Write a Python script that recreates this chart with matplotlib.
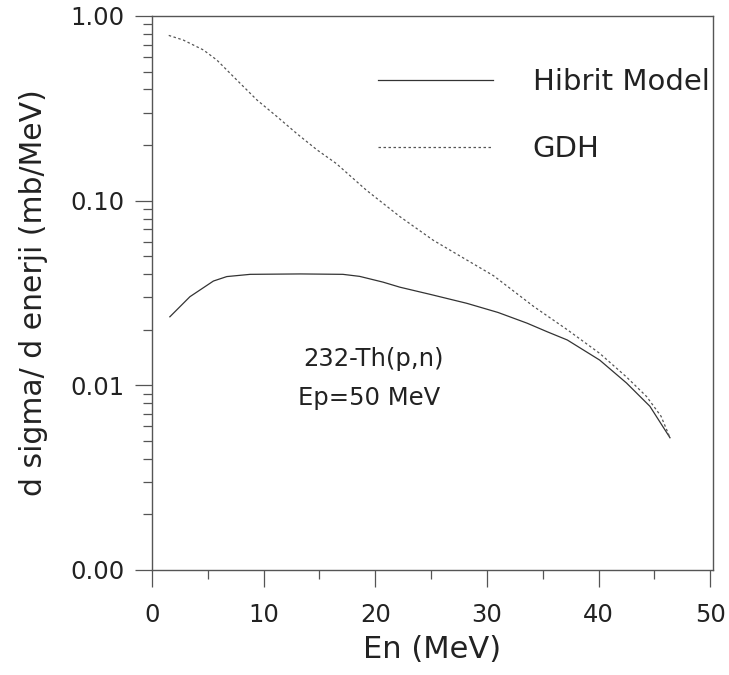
"""232-Th(p,n) neutron spectrum, Ep = 50 MeV: hybrid model vs GDH."""

import matplotlib

matplotlib.use("Agg")
import matplotlib.pyplot as plt
from matplotlib import ticker

# neutron energy (MeV) and d sigma / d E (mb/MeV)
en_hibrit = [1.6, 3.4, 5.5, 6.7, 8.8, 13.3, 17.1, 18.6, 20.7, 22.2, 25.0,
             28.2, 31.0, 33.6, 35.4, 37.2, 40.1, 42.5, 44.6, 46.4]
sig_hibrit = [0.0235, 0.0302, 0.0367, 0.0388, 0.0399, 0.0401, 0.0399, 0.0389,
              0.0362, 0.0340, 0.0310, 0.0278, 0.0248, 0.0217, 0.0195, 0.0176,
              0.0137, 0.0103, 0.0077, 0.0052]

en_gdh = [1.5, 2.8, 4.6, 5.8, 7.6, 9.4, 11.2, 13.0, 14.8, 16.5, 19.2, 22.2,
          25.2, 28.2, 30.6, 34.2, 37.2, 40.1, 42.5, 44.3, 45.6, 46.4]
sig_gdh = [0.785, 0.741, 0.655, 0.578, 0.450, 0.351, 0.285, 0.230, 0.188,
           0.159, 0.114, 0.082, 0.061, 0.0477, 0.0392, 0.0267, 0.0200,
           0.0149, 0.0111, 0.0087, 0.0068, 0.0052]

series_labels = ["Hibrit Model", "GDH"]
x_ticks = [0, 10, 20, 30, 40, 50]

ink = "#333333"
frame = "#555555"
text_col = "#222222"

fig = plt.figure(figsize=(7.29, 6.75), dpi=100)
ax = fig.add_axes([0.2085, 0.1556, 0.7695, 0.8207])

ax.plot(en_hibrit, sig_hibrit, color=ink, lw=0.9, label=series_labels[0])
ax.plot(en_gdh, sig_gdh, color=frame, lw=0.9, linestyle=(0, (2, 2)),
        label=series_labels[1])

ax.set_yscale("log")
ax.set_xlim(0, 50.25)
ax.set_ylim(0.001, 1.0)

ax.set_xticks(x_ticks)
ax.xaxis.set_minor_locator(ticker.MultipleLocator(5))
ax.yaxis.set_major_locator(ticker.LogLocator(base=10))
ax.yaxis.set_minor_locator(ticker.LogLocator(base=10, subs=range(2, 10)))
ax.yaxis.set_major_formatter(ticker.FormatStrFormatter("%.2f"))
ax.yaxis.set_minor_formatter(ticker.NullFormatter())

ax.tick_params(which="both", direction="out", color=frame, width=0.9,
               top=False, right=False, labelsize=17.5, labelcolor=text_col)
ax.tick_params(which="major", length=12, pad=8)
ax.tick_params(which="minor", length=6.5)
ax.tick_params(axis="x", which="major", pad=12)

for side in ax.spines.values():
    side.set_color(frame)
    side.set_linewidth(1.0)

ax.set_xlabel("En (MeV)", fontsize=22, color=text_col)
ax.xaxis.set_label_coords(0.5, -0.117)
ax.set_ylabel("d sigma/ d enerji (mb/MeV)", fontsize=21.5, color=text_col)
ax.yaxis.set_label_coords(-0.185, 0.5)

ax.text(0.269, 0.368, "232-Th(p,n)", transform=ax.transAxes, fontsize=17.5,
        color=text_col, va="baseline", ha="left")
ax.text(0.260, 0.298, "Ep=50 MeV", transform=ax.transAxes, fontsize=17.5,
        color=text_col, va="baseline", ha="left")

ax.legend(loc="upper left", bbox_to_anchor=(0.403, 0.9065), frameon=False,
          fontsize=21, handlelength=3.95, handletextpad=1.35,
          labelspacing=1.34, borderpad=0, borderaxespad=0,
          labelcolor=text_col)

fig.savefig("out.png", dpi=100)
plt.close(fig)
